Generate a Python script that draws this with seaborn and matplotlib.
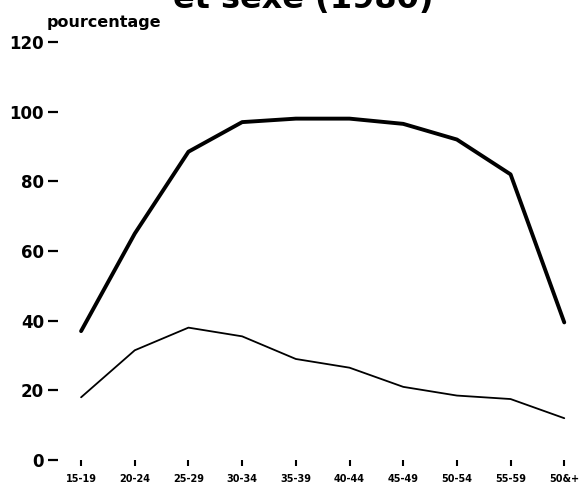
import pandas as pd
import seaborn as sns
import matplotlib.pyplot as plt

# age groups and participation rates (%)
groupes = ["15-19", "20-24", "25-29", "30-34", "35-39",
           "40-44", "45-49", "50-54", "55-59", "50&+"]
hommes = [37, 65, 88.5, 97, 98, 98, 96.5, 92, 82, 39.5]
femmes = [18, 31.5, 38, 35.5, 29, 26.5, 21, 18.5, 17.5, 12]
yticks = [0, 20, 40, 60, 80, 100, 120]

df = pd.DataFrame({"pos": range(len(groupes)), "hommes": hommes, "femmes": femmes})

sns.set_style("white")
plt.rcParams["font.family"] = ["DejaVu Sans"]
plt.rcParams["text.color"] = "black"

fig = plt.figure(figsize=(5.82, 4.92), dpi=100)
ax = fig.add_axes([58 / 582, 32 / 492, 517 / 582, 418 / 492])

sns.lineplot(data=df, x="pos", y="hommes", color="black", linewidth=2.8, ax=ax)
sns.lineplot(data=df, x="pos", y="femmes", color="black", linewidth=1.3, ax=ax)

ax.set_xlim(-0.43, 9.2)
ax.set_ylim(0, 120)
ax.set_yticks(yticks)
ax.set_yticklabels([str(v) for v in yticks], fontsize=12, fontweight="bold")
ax.set_xticks(df["pos"])
ax.set_xticklabels(groupes, fontsize=7, fontweight="bold")
ax.tick_params(axis="y", which="both", left=True, length=7, width=1.6, pad=3,
               color="black", labelcolor="black")
ax.tick_params(axis="x", which="both", bottom=True, length=4, width=1.5, pad=6,
               color="black", labelcolor="black")
ax.set_xlabel("")
ax.set_ylabel("")
for s in ax.spines.values():
    s.set_visible(False)

fig.text(47 / 582, 1 - 22 / 492, "pourcentage", fontsize=11.5, fontweight="bold", va="center")
fig.text(303 / 582, 1 - 8 / 492, "et sexe (1980)", fontsize=23, fontweight="bold",
         ha="center", va="baseline")

fig.savefig("out.png", dpi=100)
